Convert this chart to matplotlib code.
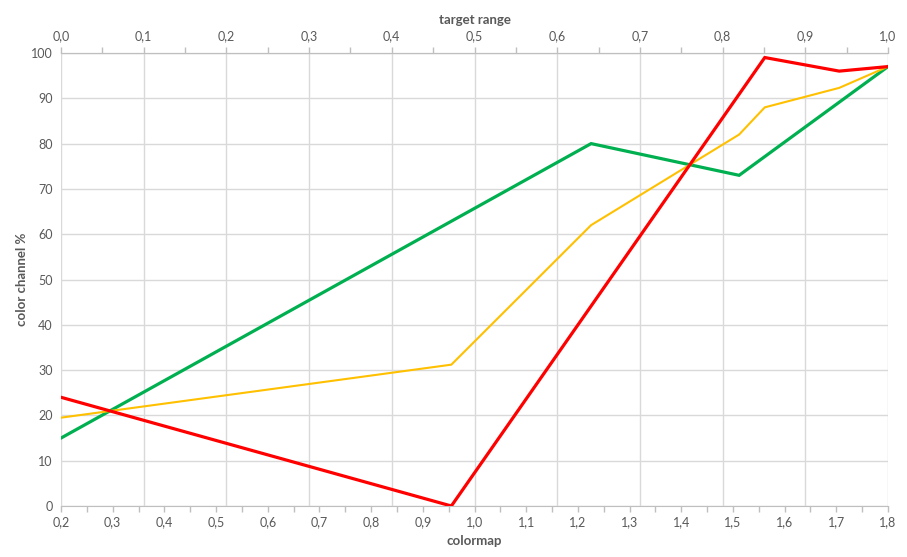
import numpy as np
from matplotlib import pyplot as plt
from matplotlib.ticker import MultipleLocator, FuncFormatter

# values (x in "target range" units)
red_x = [0.0, 0.472, 0.851, 0.941, 1.0]
red_y = [24, 0, 99, 96, 97]
green_x = [0.0, 0.641, 0.82, 1.0]
green_y = [15, 80, 73, 97]
yellow_x = [0.0, 0.472, 0.641, 0.82, 0.851, 0.941, 1.0]
yellow_y = [19.5, 31.2, 62, 82, 88, 92.3, 97]

txt = '#595959'
grid = '#d9d9d9'
plt.rcParams['font.family'] = ['Lato', 'DejaVu Sans']

fig = plt.figure(figsize=(9.07, 5.57), dpi=100)
ax = fig.add_axes([61/907, 1-506/557, 827/907, 453/557])

# bottom axis: colormap
ax.set_xlim(0.2, 1.8)
ax.set_ylim(0, 100)
ax.xaxis.set_major_locator(MultipleLocator(0.1))
ax.xaxis.set_minor_locator(MultipleLocator(0.05))
ax.yaxis.set_major_locator(MultipleLocator(10))
ax.xaxis.set_major_formatter(FuncFormatter(lambda v, p: f"{v:.1f}".replace('.', ',')))
ax.yaxis.grid(color=grid, linewidth=1)
ax.set_axisbelow(True)
ax.tick_params(axis='x', which='both', colors='#bfbfbf', labelcolor=txt, labelsize=9, length=4, width=1)
ax.tick_params(axis='y', length=0, labelcolor=txt, labelsize=9, pad=6)
for s in ['left', 'right']:
    ax.spines[s].set_visible(False)
ax.spines['bottom'].set_color('#bfbfbf')
ax.spines['top'].set_color('#bfbfbf')
ax.set_xlabel('colormap', color=txt, fontsize=9.5, fontweight='bold', labelpad=5)
ax.set_ylabel('color channel %', color=txt, fontsize=9.5, fontweight='bold', labelpad=2)

# top axis: target range
ax2 = ax.twiny()
ax2.set_xlim(0, 1)
ax2.set_ylim(0, 100)
ax2.xaxis.set_major_locator(MultipleLocator(0.1))
ax2.xaxis.set_minor_locator(MultipleLocator(0.05))
ax2.xaxis.set_major_formatter(FuncFormatter(lambda v, p: f"{v:.1f}".replace('.', ',')))
ax2.xaxis.grid(color=grid, linewidth=1)
ax2.set_axisbelow(True)
ax2.tick_params(axis='x', which='both', colors='#bfbfbf', labelcolor=txt, labelsize=9, length=4, width=1)
for s in ['left', 'right', 'bottom']:
    ax2.spines[s].set_visible(False)
ax2.spines['top'].set_color('#bfbfbf')
ax2.set_xlabel('target range', color=txt, fontsize=9.5, fontweight='bold', labelpad=5)

ax2.plot(green_x, green_y, color='#00B050', linewidth=2.3, solid_joinstyle='miter')
ax2.plot(yellow_x, yellow_y, color='#FFC000', linewidth=1.5, solid_joinstyle='miter')
ax2.plot(red_x, red_y, color='#FF0000', linewidth=2.3, solid_joinstyle='miter')

fig.savefig('out.png', dpi=100)
